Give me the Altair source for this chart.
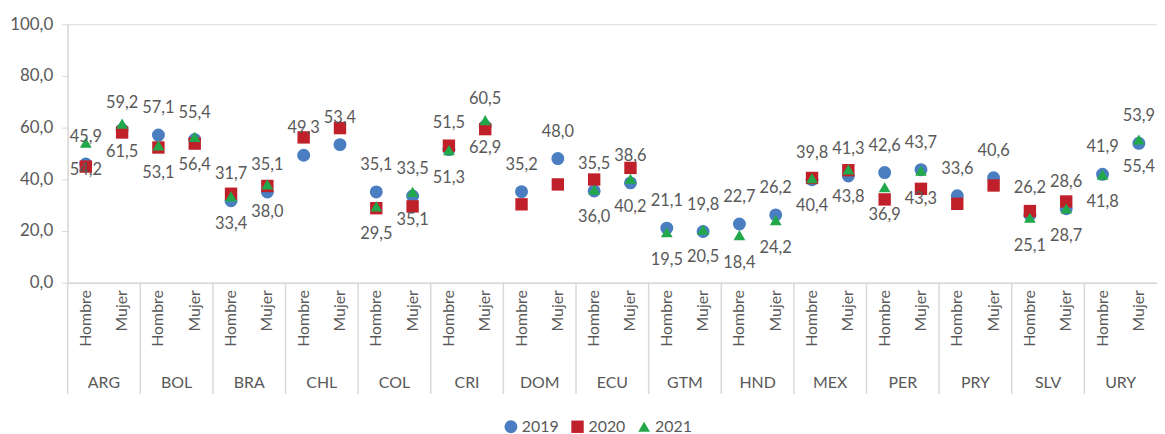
import altair as alt
import pandas as pd

countries = ["ARG", "BOL", "BRA", "CHL", "COL", "CRI", "DOM", "ECU",
             "GTM", "HND", "MEX", "PER", "PRY", "SLV", "URY"]
sexes = ["Hombre", "Mujer"]
years = ["2019", "2020", "2021"]

v2019_h = [45.9, 57.1, 31.7, 49.3, 35.1, 51.5, 35.2, 35.5, 21.1, 22.7, 39.8, 42.6, 33.6, 26.2, 41.9]
v2019_m = [59.2, 55.4, 35.1, 53.4, 33.5, 60.5, 48.0, 38.6, 19.8, 26.2, 41.3, 43.7, 40.6, 28.6, 53.9]
v2020_h = [44.9, 52.3, 34.4, 56.2, 28.8, 53.0, 30.3, 39.9, None, None, 40.5, 32.2, 30.5, 27.7, None]
v2020_m = [58.1, 53.8, 37.4, 59.8, 29.5, 59.4, 38.0, 44.4, None, None, 43.5, 36.3, 37.6, 31.4, None]
v2021_h = [54.2, 53.1, 33.4, None, 29.5, 51.3, None, 36.0, 19.5, 18.4, 40.4, 36.9, None, 25.1, 41.8]
v2021_m = [61.5, 56.4, 38.0, None, 35.1, 62.9, None, 40.2, 20.5, 24.2, 43.8, 43.3, None, 28.7, 55.4]

series = {"2019": (v2019_h, v2019_m), "2020": (v2020_h, v2020_m), "2021": (v2021_h, v2021_m)}

cats = [f"{c}|{s}" for c in countries for s in sexes]

rows = []
for yi, y in enumerate(years):
    h, m = series[y]
    for i, c in enumerate(countries):
        for s, vals in (("Hombre", h), ("Mujer", m)):
            if vals[i] is not None:
                rows.append({"cat": f"{c}|{s}", "country": c, "sex": s,
                             "year": y, "yr": yi, "v": vals[i]})
df = pd.DataFrame(rows)
cdf = pd.DataFrame({"cat": [f"{c}|Hombre" for c in countries], "country": countries})

FONT = "Lato"
TXT = "#595959"
GRID = "#d9d9d9"
H = 260

xaxis = alt.Axis(labelExpr="split(datum.label,'|')[1]", labelAngle=270, labelFont=FONT,
                 labelFontSize=16, labelColor=TXT, ticks=False, domainColor=GRID,
                 domainWidth=1.5, labelPadding=7, title=None, grid=False)
xscale = alt.Scale(domain=cats, paddingInner=0, paddingOuter=0)


def xenc(bp=0.5):
    return alt.X("cat:N", sort=cats, scale=xscale, axis=xaxis, bandPosition=bp)


yenc = alt.Y("v:Q", scale=alt.Scale(domain=[0, 100]),
             axis=alt.Axis(values=[0, 20, 40, 60, 80, 100],
                           labelExpr="replace(format(datum.value,'.1f'),'.',',')",
                           labelFont=FONT, labelFontSize=17, labelColor=TXT,
                           domainColor=GRID, domainWidth=1.5, tickColor=GRID,
                           tickSize=6, labelPadding=9, grid=False, title=None))

leg = dict(title=None, orient="none", legendX=438, legendY=397, direction="horizontal",
           labelFont=FONT, labelFontSize=16, labelColor=TXT, symbolSize=150,
           labelOffset=3, columnPadding=10, symbolStrokeWidth=0)

points = alt.Chart(df).mark_point(filled=True, opacity=1).encode(
    x=xenc(),
    y=yenc,
    color=alt.Color("year:N", scale=alt.Scale(domain=years, range=["#4A7EC0", "#C0202A", "#22A84A"]),
                    legend=alt.Legend(**leg)),
    shape=alt.Shape("year:N", scale=alt.Scale(domain=years, range=["circle", "square", "triangle-up"]),
                    legend=alt.Legend(**leg)),
    size=alt.Size("year:N", scale=alt.Scale(domain=years, range=[170, 140, 150]), legend=None),
    order=alt.Order("yr:Q"),
)

lab19 = alt.Chart(df).transform_filter("datum.year == '2019'").transform_calculate(
    t="replace(format(datum.v,'.1f'),'.',',')"
).mark_text(font=FONT, fontSize=16.5, color=TXT, dy=-27, baseline="middle").encode(
    x=xenc(), y=yenc, text="t:N")

lab21 = alt.Chart(df).transform_filter("datum.year == '2021'").transform_calculate(
    t="replace(format(datum.v,'.1f'),'.',',')"
).mark_text(font=FONT, fontSize=16.5, color=TXT, dy=28, baseline="middle").encode(
    x=xenc(), y=yenc, text="t:N")

seps = alt.Chart(cdf).mark_rule(color=GRID, strokeWidth=1.5).encode(
    x=xenc(0), y=alt.value(H), y2=alt.value(372))

clabels = alt.Chart(cdf).mark_text(font=FONT, fontSize=16, color=TXT, baseline="middle").encode(
    x=xenc(1), y=alt.value(361), text="country:N")

chart = alt.layer(seps, points, lab19, lab21, clabels).properties(
    width=1096, height=H,
    autosize=alt.AutoSizeParams(type="none"),
    padding={"left": 60, "top": 15, "right": 0, "bottom": 155},
).configure_view(stroke=None).configure(background="white")

chart.save("out.html", embed_options={"renderer": "svg", "actions": False})
